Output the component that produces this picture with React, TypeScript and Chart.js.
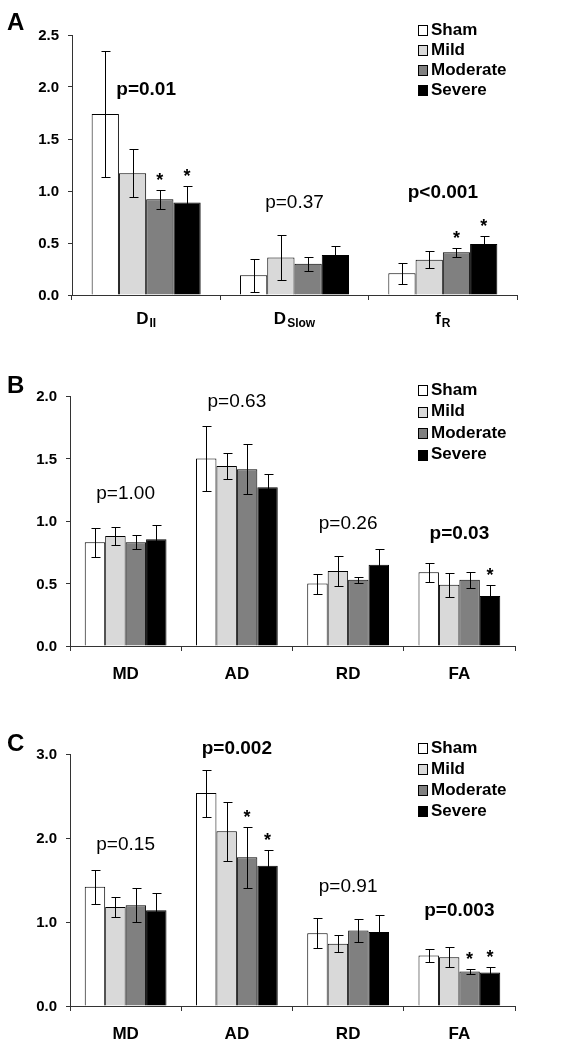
import React, { useEffect, useRef } from 'react';
import { Chart, registerables } from 'chart.js';

Chart.register(...registerables);

const FONT = "'Liberation Sans', Arial, Helvetica, sans-serif";

// ---------- shared ----------
const seriesNames = ['Sham', 'Mild', 'Moderate', 'Severe'];
const seriesColors = ['#ffffff', '#d9d9d9', '#808080', '#000000'];

// ---------- Panel A ----------
const catMainA = ['D', 'D', 'f'];
const catSubA = ['II', 'Slow', 'R'];
const shamA = [1.74, 0.19, 0.21];
const mildA = [1.17, 0.36, 0.34];
const moderateA = [0.92, 0.3, 0.41];
const severeA = [0.89, 0.385, 0.49];
const shamErrA = [0.61, 0.16, 0.1];
const mildErrA = [0.23, 0.22, 0.08];
const moderateErrA = [0.09, 0.07, 0.04];
const severeErrA = [0.16, 0.09, 0.08];
const shamStarA = [false, false, false];
const mildStarA = [false, false, false];
const moderateStarA = [true, false, true];
const severeStarA = [true, false, true];
const pTextA = ['p=0.01', 'p=0.37', 'p<0.001'];
const pBoldA = [true, false, true];
const pLevelA = [1.97, 0.89, 0.98];
const yTicksA = [0, 0.5, 1.0, 1.5, 2.0, 2.5];

// ---------- Panel B ----------
const catMainB = ['MD', 'AD', 'RD', 'FA'];
const catSubB = ['', '', '', ''];
const shamB = [0.83, 1.5, 0.5, 0.59];
const mildB = [0.88, 1.44, 0.6, 0.49];
const moderateB = [0.83, 1.415, 0.53, 0.53];
const severeB = [0.855, 1.27, 0.65, 0.4];
const shamErrB = [0.115, 0.26, 0.08, 0.075];
const mildErrB = [0.075, 0.105, 0.12, 0.095];
const moderateErrB = [0.055, 0.2, 0.025, 0.065];
const severeErrB = [0.115, 0.105, 0.13, 0.085];
const shamStarB = [false, false, false, false];
const mildStarB = [false, false, false, false];
const moderateStarB = [false, false, false, false];
const severeStarB = [false, false, false, true];
const pTextB = ['p=1.00', 'p=0.63', 'p=0.26', 'p=0.03'];
const pBoldB = [false, false, false, true];
const pLevelB = [1.22, 1.95, 0.98, 0.9];
const yTicksB = [0, 0.5, 1.0, 1.5, 2.0];

// ---------- Panel C ----------
const catMainC = ['MD', 'AD', 'RD', 'FA'];
const catSubC = ['', '', '', ''];
const shamC = [1.42, 2.535, 0.866, 0.6];
const mildC = [1.18, 2.08, 0.74, 0.58];
const moderateC = [1.2, 1.77, 0.9, 0.41];
const severeC = [1.14, 1.67, 0.88, 0.4];
const shamErrC = [0.2, 0.28, 0.18, 0.08];
const mildErrC = [0.115, 0.35, 0.1, 0.12];
const moderateErrC = [0.2, 0.36, 0.14, 0.03];
const severeErrC = [0.2, 0.19, 0.2, 0.07];
const shamStarC = [false, false, false, false];
const mildStarC = [false, false, false, false];
const moderateStarC = [false, true, false, true];
const severeStarC = [false, true, false, true];
const pTextC = ['p=0.15', 'p=0.002', 'p=0.91', 'p=0.003'];
const pBoldC = [false, true, false, true];
const pLevelC = [1.92, 3.06, 1.42, 1.13];
const yTicksC = [0, 1.0, 2.0, 3.0];

type PanelDef = {
  letter: string;
  catMain: string[];
  catSub: string[];
  values: number[][];
  errors: number[][];
  stars: boolean[][];
  pText: string[];
  pBold: boolean[];
  pLevel: number[];
  yTicks: number[];
  layout: {
    top: number;
    height: number;
    left: number;
    right: number;
    areaTop: number;
    areaBottom: number;
    letterY: number;
    legendY0: number;
    legendDy: number;
    labelY: number;
  };
};

const panels: PanelDef[] = [
  {
    letter: 'A',
    catMain: catMainA,
    catSub: catSubA,
    values: [shamA, mildA, moderateA, severeA],
    errors: [shamErrA, mildErrA, moderateErrA, severeErrA],
    stars: [shamStarA, mildStarA, moderateStarA, severeStarA],
    pText: pTextA,
    pBold: pBoldA,
    pLevel: pLevelA,
    yTicks: yTicksA,
    layout: { top: 0, height: 340, left: 72, right: 517, areaTop: 35, areaBottom: 295, letterY: 23, legendY0: 30, legendDy: 20, labelY: 318 },
  },
  {
    letter: 'B',
    catMain: catMainB,
    catSub: catSubB,
    values: [shamB, mildB, moderateB, severeB],
    errors: [shamErrB, mildErrB, moderateErrB, severeErrB],
    stars: [shamStarB, mildStarB, moderateStarB, severeStarB],
    pText: pTextB,
    pBold: pBoldB,
    pLevel: pLevelB,
    yTicks: yTicksB,
    layout: { top: 340, height: 350, left: 70, right: 515, areaTop: 56, areaBottom: 306, letterY: 46, legendY0: 50, legendDy: 21.5, labelY: 333 },
  },
  {
    letter: 'C',
    catMain: catMainC,
    catSub: catSubC,
    values: [shamC, mildC, moderateC, severeC],
    errors: [shamErrC, mildErrC, moderateErrC, severeErrC],
    stars: [shamStarC, mildStarC, moderateStarC, severeStarC],
    pText: pTextC,
    pBold: pBoldC,
    pLevel: pLevelC,
    yTicks: yTicksC,
    layout: { top: 690, height: 360, left: 70, right: 515, areaTop: 64, areaBottom: 316, letterY: 54, legendY0: 58, legendDy: 21, labelY: 343 },
  },
];

function drawText(
  ctx: CanvasRenderingContext2D,
  text: string,
  x: number,
  y: number,
  font: string,
  align: CanvasTextAlign,
  baseline: CanvasTextBaseline
) {
  ctx.save();
  ctx.font = font;
  ctx.textAlign = align;
  ctx.textBaseline = baseline;
  ctx.fillStyle = '#000';
  ctx.fillText(text, x, y);
  ctx.restore();
}

function makeOverlay(p: PanelDef) {
  return {
    id: 'overlay' + p.letter,
    afterDatasetsDraw(chart: any) {
      const ctx = chart.ctx as CanvasRenderingContext2D;
      const ys = chart.scales.y;
      ctx.save();
      ctx.strokeStyle = '#000';
      ctx.lineWidth = 1;
      p.values.forEach((vals, di) => {
        const meta = chart.getDatasetMeta(di);
        meta.data.forEach((bar: any, i: number) => {
          const v = vals[i];
          const e = p.errors[di][i];
          const x = Math.round(bar.x) + 0.5;
          const yt = Math.round(ys.getPixelForValue(v + e)) + 0.5;
          const yb = Math.round(ys.getPixelForValue(v - e)) + 0.5;
          ctx.beginPath();
          ctx.moveTo(x, yt);
          ctx.lineTo(x, yb);
          ctx.moveTo(x - 4, yt);
          ctx.lineTo(x + 5, yt);
          ctx.moveTo(x - 4, yb);
          ctx.lineTo(x + 5, yb);
          ctx.stroke();
          if (p.stars[di][i]) {
            drawText(ctx, '*', bar.x, yt - 5, `bold 18px ${FONT}`, 'center', 'alphabetic');
          }
        });
      });
      ctx.restore();
    },
    afterDraw(chart: any) {
      const ctx = chart.ctx as CanvasRenderingContext2D;
      const ys = chart.scales.y;
      const xs = chart.scales.x;
      const L = p.layout;
      ctx.save();
      // panel letter
      drawText(ctx, p.letter, 7, L.letterY, `bold 24px ${FONT}`, 'left', 'middle');
      // y tick labels
      p.yTicks.forEach((v) => {
        drawText(ctx, v.toFixed(1), L.left - 13, ys.getPixelForValue(v) + 1, `bold 15px ${FONT}`, 'right', 'middle');
      });
      // p-values
      p.pText.forEach((t, i) => {
        drawText(
          ctx,
          t,
          xs.getPixelForValue(i),
          ys.getPixelForValue(p.pLevel[i]),
          `${p.pBold[i] ? 'bold ' : ''}19px ${FONT}`,
          'center',
          'middle'
        );
      });
      // x labels with subscripts
      p.catMain.forEach((m, i) => {
        const sub = p.catSub[i];
        const mainFont = `bold 17px ${FONT}`;
        const subFont = `bold 12px ${FONT}`;
        ctx.font = mainFont;
        const wm = ctx.measureText(m).width;
        ctx.font = subFont;
        const wsub = sub ? ctx.measureText(sub).width + 1 : 0;
        const cx = xs.getPixelForValue(i);
        const x0 = cx - (wm + wsub) / 2;
        const base = L.labelY + 6;
        drawText(ctx, m, x0, base, mainFont, 'left', 'alphabetic');
        if (sub) {
          drawText(ctx, sub, x0 + wm + 1, base + 3, subFont, 'left', 'alphabetic');
        }
      });
      // legend
      seriesNames.forEach((name, k) => {
        const cy = L.legendY0 + k * L.legendDy;
        const by = Math.round(cy - 5);
        ctx.fillStyle = seriesColors[k];
        ctx.fillRect(418, by, 10, 11);
        ctx.strokeStyle = '#000';
        ctx.lineWidth = 1;
        ctx.strokeRect(418.5, by + 0.5, 9, 10);
        drawText(ctx, name, 431, cy, `bold 17px ${FONT}`, 'left', 'middle');
      });
      ctx.restore();
    },
  };
}

function Panel({ p }: { p: PanelDef }) {
  const ref = useRef<HTMLCanvasElement>(null);
  useEffect(() => {
    const L = p.layout;
    const yMax = p.yTicks[p.yTicks.length - 1];
    const chart = new Chart(ref.current as HTMLCanvasElement, {
      type: 'bar',
      data: {
        labels: p.catMain.map((m, i) => m + p.catSub[i]),
        datasets: p.values.map((vals, di) => ({
          label: seriesNames[di],
          data: vals,
          backgroundColor: seriesColors[di],
          borderColor: '#000',
          borderWidth: 1,
          categoryPercentage: 0.735,
          barPercentage: 1.0,
        })),
      },
      options: {
        animation: false,
        responsive: false,
        maintainAspectRatio: false,
        layout: { padding: { top: L.areaTop, right: 584 - L.right, left: 0, bottom: 0 } },
        plugins: { legend: { display: false }, tooltip: { enabled: false } },
        scales: {
          x: {
            type: 'category',
            grid: { display: true, drawOnChartArea: false, drawTicks: true, tickLength: 5, color: '#333', offset: true },
            border: { display: true, color: '#333', width: 1 },
            ticks: { display: false },
            afterFit: (s: any) => {
              s.height = L.height - L.areaBottom;
            },
          },
          y: {
            min: 0,
            max: yMax,
            grid: { display: true, drawOnChartArea: false, drawTicks: true, tickLength: 4, color: '#333' },
            border: { display: true, color: '#333', width: 1 },
            afterBuildTicks: (s: any) => {
              s.ticks = p.yTicks.map((v) => ({ value: v }));
            },
            ticks: { display: false },
            afterFit: (s: any) => {
              s.width = L.left;
            },
          },
        },
      } as any,
      plugins: [makeOverlay(p)],
    });
    return () => chart.destroy();
  }, [p]);
  return (
    <canvas
      ref={ref}
      width={584}
      height={p.layout.height}
      style={{ position: 'absolute', left: 0, top: p.layout.top, width: 584, height: p.layout.height }}
    />
  );
}

export default function App() {
  return (
    <div style={{ position: 'absolute', left: 0, top: 0, width: 584, height: 1050, background: '#fff', overflow: 'hidden' }}>
      {panels.map((p) => (
        <Panel key={p.letter} p={p} />
      ))}
    </div>
  );
}
